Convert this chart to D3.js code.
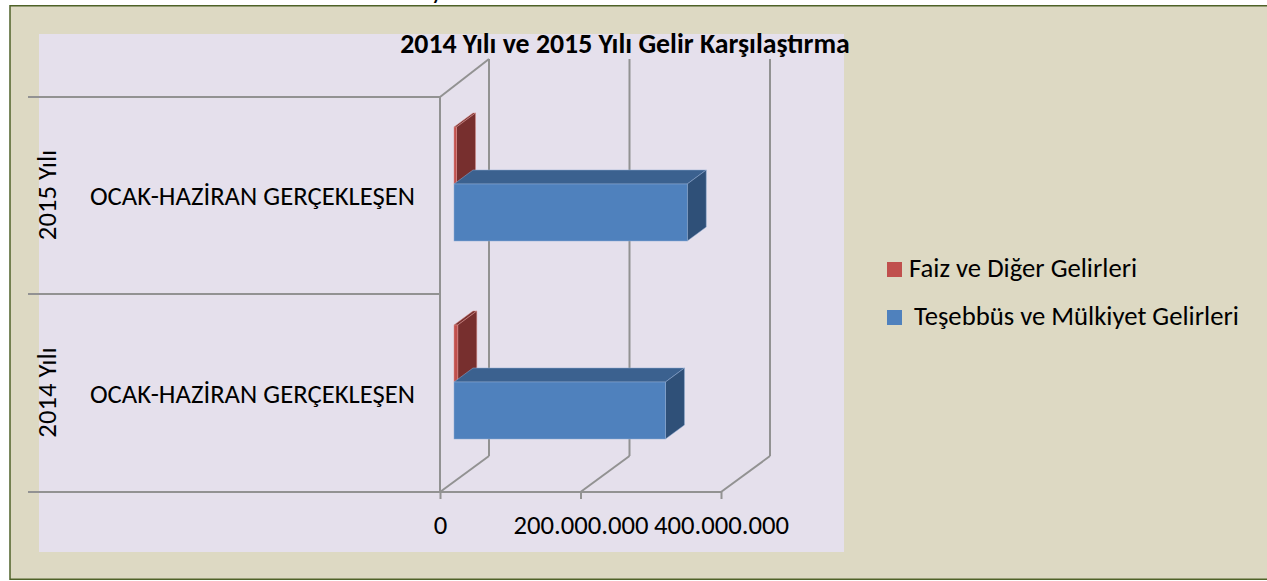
<!DOCTYPE html>
<html>
<head>
<meta charset="utf-8">
<script src="https://cdn.jsdelivr.net/npm/d3@7"></script>
<style>
  html, body { margin: 0; padding: 0; background: #fff; }
  svg { display: block; }
  text { font-family: Carlito, Lato, sans-serif; fill: #000; }
</style>
</head>
<body>
<div id="chart"></div>
<script>
var width = 1267, height = 581;

// data
const years = ['2015 Yılı', '2014 Yılı'];
const periods = ['OCAK-HAZİRAN GERÇEKLEŞEN', 'OCAK-HAZİRAN GERÇEKLEŞEN'];
const teşebbüs = [332000000, 301000000];
const faiz = [3600000, 5400000];
const ticks = [0, 200000000, 400000000];
const legendLabels = ['Faiz ve Diğer Gelirleri', 'Teşebbüs ve Mülkiyet Gelirleri'];
const title = '2014 Yılı ve 2015 Yılı Gelir Karşılaştırma';

const grid = '#929292';
const fontSize = 26.7;

var svg = d3.select('#chart').append('svg')
  .attr('width', width).attr('height', height);

// background frame + plot panel
svg.append('rect').attr('x', 10).attr('y', 5.75).attr('width', 1262).attr('height', 573.5)
  .attr('fill', '#ddd9c3').attr('stroke', '#4f6228').attr('stroke-width', 1.5);
svg.append('rect').attr('x', 39).attr('y', 34).attr('width', 805).attr('height', 518)
  .attr('fill', '#e5e0ec');

var x = d3.scaleLinear().domain([0, 400000000]).range([440, 721]);
var y = d3.scaleBand().domain(years).range([97, 492]);
var baseY = y.range()[1];

// the 3d floor/back wall offset
var wallDx = 49, wallDy = -36;
var barDx = 19, barDy = -14;
var barStart = 14, barH = 57;
var wallTop = 59;

var locale = d3.formatLocale({ decimal: ',', thousands: '.', grouping: [3], currency: ['', ''] });

// back wall and floor lines
ticks.forEach(function(t) {
  svg.append('line')
    .attr('x1', x(t) + wallDx).attr('x2', x(t) + wallDx)
    .attr('y1', wallTop).attr('y2', baseY + wallDy)
    .attr('stroke', grid).attr('stroke-width', 2);
  svg.append('line')
    .attr('x1', x(t)).attr('x2', x(t) + wallDx)
    .attr('y1', baseY).attr('y2', baseY + wallDy)
    .attr('stroke', grid).attr('stroke-width', 2);
});

// left wall
svg.append('line').attr('x1', x(0)).attr('x2', x(0) + wallDx)
  .attr('y1', y.range()[0]).attr('y2', wallTop)
  .attr('stroke', grid).attr('stroke-width', 2);
svg.append('line').attr('x1', x(0)).attr('x2', x(0))
  .attr('y1', y.range()[0]).attr('y2', baseY)
  .attr('stroke', grid).attr('stroke-width', 2);

// category separators
var seps = years.map(function(d) { return y(d); }).concat([baseY]);
svg.selectAll('.sep').data(seps).enter().append('line')
  .attr('class', 'sep')
  .attr('x1', 28).attr('x2', 441)
  .attr('y1', function(d) { return Math.floor(d); }).attr('y2', function(d) { return Math.floor(d); })
  .attr('stroke', grid).attr('stroke-width', 2);

// bars
function drawBar(x0, x1, yTop, h, cls) {
  var g = svg.append('g');
  g.append('path')
    .attr('d', `M${x0},${yTop}L${x0 + barDx},${yTop + barDy}L${x1 + barDx},${yTop + barDy}L${x1},${yTop}Z`)
    .attr('fill', cls.top).attr('stroke', cls.edge).attr('stroke-width', 0.5);
  g.append('path')
    .attr('d', `M${x1},${yTop}L${x1 + barDx},${yTop + barDy}L${x1 + barDx},${yTop + barDy + h}L${x1},${yTop + h}Z`)
    .attr('fill', cls.side).attr('stroke', cls.edge).attr('stroke-width', 0.5);
  g.append('rect').attr('x', x0).attr('y', yTop).attr('width', x1 - x0).attr('height', h)
    .attr('fill', cls.front).attr('stroke', cls.edge).attr('stroke-width', 0.5);
}
var red = { front: '#c0504d', top: '#7a3230', side: '#772f2e', edge: '#d9918f' };
var blue = { front: '#4f81bd', top: '#3b618f', side: '#2f5078', edge: '#8fabd2' };

years.forEach(function(d, i) {
  var base = x(0) + barStart;
  var frontTop = Math.ceil(y(d) + 87);
  drawBar(base, base + x(faiz[i]) - x(0), frontTop - barH, barH, red);
  drawBar(base, base + x(teşebbüs[i]) - x(0), frontTop, barH, blue);
});

// tick marks + labels through the axis
var axis = d3.axisBottom(x).tickValues(ticks).tickSize(7)
  .tickFormat(locale.format(',d'));
var axisG = svg.append('g').attr('transform', 'translate(0,' + baseY + ')').call(axis);
axisG.select('.domain').attr('stroke', grid).attr('stroke-width', 2).attr('d', 'M440,0H721');
axisG.selectAll('line').attr('stroke', grid).attr('stroke-width', 2);
axisG.selectAll('text').attr('dy', null).attr('y', 42)
  .style('font-size', fontSize + 'px')
  .style('font-family', 'Carlito, Lato, sans-serif').attr('fill', '#000');

// category labels
svg.selectAll('.period').data(periods).enter().append('text')
  .attr('class', 'period')
  .attr('x', 252.5)
  .attr('y', function(d, i) { return y(years[i]) + 108; })
  .attr('text-anchor', 'middle').attr('font-size', fontSize)
  .text(function(d) { return d; });

svg.selectAll('.year').data(years).enter().append('text')
  .attr('class', 'year')
  .attr('transform', function(d) { return 'translate(55.5,' + (y(d) + 98) + ') rotate(-90)'; })
  .attr('text-anchor', 'middle').attr('font-size', fontSize)
  .text(function(d) { return d; });

// title
svg.append('text').attr('x', 625).attr('y', 53).attr('text-anchor', 'middle')
  .attr('font-size', 27.8).attr('font-weight', 'bold').text(title);

// cut off text above the frame
svg.append('text').attr('x', 431).attr('y', -1).attr('font-size', fontSize).text('y');

// legend
var legendColors = ['#c0504d', '#4f81bd'];
var legend = svg.selectAll('.legend').data(legendLabels).enter().append('g')
  .attr('class', 'legend')
  .attr('transform', function(d, i) { return 'translate(887,' + (262 + i * 48) + ')'; });
legend.append('rect').attr('width', 15).attr('height', 15)
  .attr('fill', function(d, i) { return legendColors[i]; });
legend.append('text').attr('x', function(d, i) { return i ? 27 : 22; }).attr('y', 15)
  .attr('font-size', fontSize).text(function(d) { return d; });
</script>
</body>
</html>
